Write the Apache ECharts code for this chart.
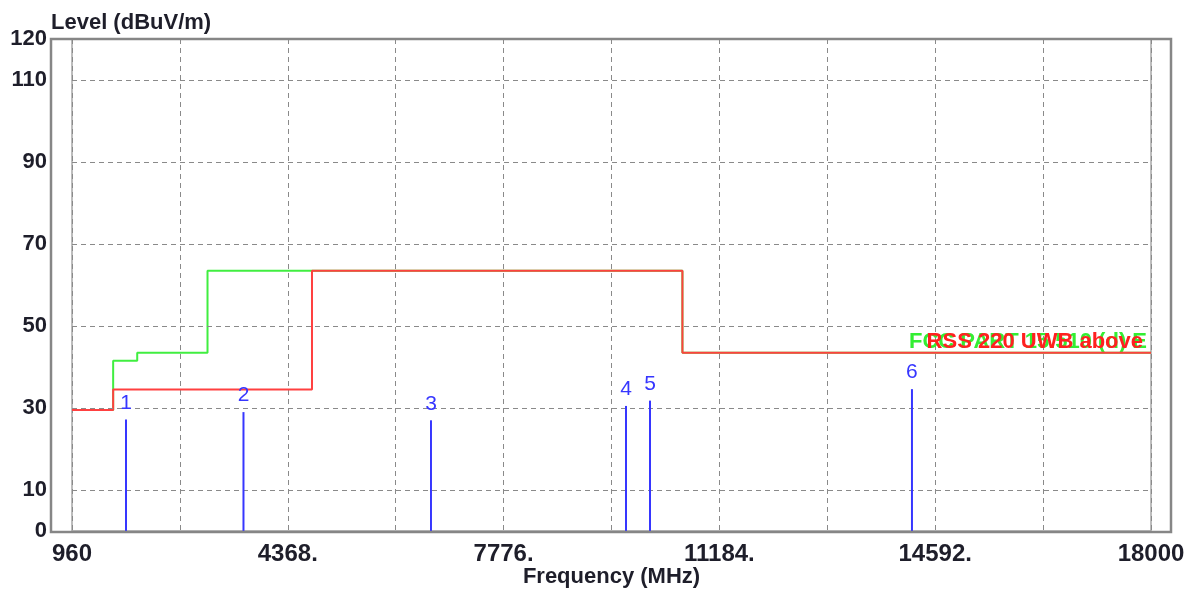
<!DOCTYPE html>
<html>
<head>
<meta charset="utf-8">
<title>Radiated emission scan</title>
<script src="https://cdn.jsdelivr.net/npm/echarts@6/dist/echarts.min.js"></script>
<style>
  html, body { margin: 0; padding: 0; background: #ffffff; }
  #chart { width: 1194px; height: 590px; }
</style>
</head>
<body>
<div id="chart"></div>
<script>
// Frequency span of the scan (MHz)
const freqStart = 960;
const freqStop = 18000;
const freqStep = 1704;

// Tick labels along the frequency axis (every second grid line)
const xTickLabels = ['960', '4368.', '7776.', '11184.', '14592.', '18000'];
// Level axis labels and dashed grid levels (dBuV/m)
const yTickLabels = [0, 10, 30, 50, 70, 90, 110, 120];
const yGridLevels = [10, 30, 50, 70, 90, 110];

// FCC limit line: breakpoints (MHz) and level held from each breakpoint
const fccName = 'FCC PART 15.510 (d) E';
const fccFreqs = [960, 1610, 1990, 3100, 10600, 18000];
const fccLevels = [29.5, 41.5, 43.5, 63.5, 43.5, 43.5];

// RSS 220 limit line
const rssName = 'RSS 220 UWB above';
const rssFreqs = [960, 1610, 4750, 10600, 18000];
const rssLevels = [29.5, 34.5, 63.5, 43.5, 43.5];

// Measured peaks
const peakFreqs = [1813, 3668, 6629, 9709, 10088, 14225];
const peakLevels = [27.2, 29.0, 27.0, 30.5, 31.8, 34.6];

// x values are plotted as offsets from the start frequency so the
// 1704 MHz grid step lines up with the axis minimum
const toX = f => f - freqStart;
const pairs = (fs, ls) => fs.map((f, i) => [toX(f), ls[i]]);

const textColor = '#1e1e2a';
const fontFamily = 'Liberation Sans, Arial, sans-serif';
const peakColor = '#3636ff';

const chart = echarts.init(document.getElementById('chart'), null, { renderer: 'canvas' });

const gridDash = { color: '#8a8a8a', width: 1, type: [5, 4] };

chart.setOption({
  animation: false,
  backgroundColor: '#ffffff',
  title: {
    text: 'Level (dBuV/m)',
    left: 51,
    top: 12,
    padding: 0,
    textStyle: { fontFamily, fontSize: 22, fontWeight: 'bold', color: textColor }
  },
  grid: {
    left: 72, right: 43, top: 39, bottom: 59,
    outerBoundsMode: 'none',
    containLabel: false,
    show: true,
    borderColor: '#a8a8a8',
    borderWidth: 1.5,
    backgroundColor: 'transparent'
  },
  graphic: [{
    type: 'rect',
    shape: { x: 51, y: 39, width: 1120, height: 493 },
    style: { fill: 'none', stroke: '#868686', lineWidth: 2.5 },
    z: 10,
    silent: true
  }],
  xAxis: {
    type: 'value',
    min: 0,
    max: toX(freqStop),
    interval: freqStep,
    name: 'Frequency (MHz)',
    nameLocation: 'middle',
    nameGap: 35,
    nameMoveOverlap: false,
    nameTextStyle: { fontFamily, fontSize: 22, fontWeight: 'bold', color: textColor },
    axisLine: { show: false },
    axisTick: { show: false },
    splitLine: { show: true, lineStyle: gridDash },
    axisLabel: {
      margin: 11,
      fontFamily, fontSize: 24, fontWeight: 'bold', color: textColor,
      formatter: v => {
        const k = Math.round(v / freqStep);
        return k % 2 === 0 ? xTickLabels[k / 2] : '';
      }
    }
  },
  yAxis: {
    type: 'value',
    min: 0,
    max: 120,
    interval: 10,
    axisLine: { show: false },
    axisTick: { show: false },
    splitLine: { show: false },
    axisLabel: {
      margin: 25,
      fontFamily, fontSize: 22, fontWeight: 'bold', color: textColor,
      formatter: v => (yTickLabels.indexOf(v) >= 0 ? String(v) : '')
    }
  },
  series: [
    {
      // horizontal dashed grid at the labelled levels
      type: 'line',
      data: [],
      silent: true,
      markLine: {
        silent: true,
        symbol: 'none',
        label: { show: false },
        lineStyle: gridDash,
        data: yGridLevels.map(v => ({ yAxis: v }))
      }
    },
    {
      name: fccName,
      type: 'line',
      step: 'end',
      showSymbol: false,
      data: pairs(fccFreqs, fccLevels),
      lineStyle: { color: '#40ee40', width: 2 },
      itemStyle: { color: '#40ee40' },
      z: 3,
      endLabel: {
        show: true,
        formatter: fccName,
        align: 'right',
        verticalAlign: 'bottom',
        distance: -4,
        offset: [0, 0],
        fontFamily, fontSize: 22, fontWeight: 'bold', color: '#33ee33'
      }
    },
    {
      name: rssName,
      type: 'line',
      step: 'end',
      showSymbol: false,
      data: pairs(rssFreqs, rssLevels),
      lineStyle: { color: '#ff4040', width: 2 },
      itemStyle: { color: '#ff4040' },
      z: 4,
      endLabel: {
        show: true,
        formatter: rssName,
        align: 'right',
        verticalAlign: 'bottom',
        distance: -8,
        offset: [0, 0],
        fontFamily, fontSize: 22, fontWeight: 'bold', color: '#ff2020'
      }
    },
    {
      name: 'Peaks',
      type: 'bar',
      barWidth: 2,
      data: pairs(peakFreqs, peakLevels),
      itemStyle: { color: peakColor },
      z: 5,
      label: {
        show: true,
        position: 'top',
        distance: 6,
        formatter: p => String(p.dataIndex + 1),
        fontFamily, fontSize: 21, color: peakColor
      }
    }
  ]
});
</script>
</body>
</html>
